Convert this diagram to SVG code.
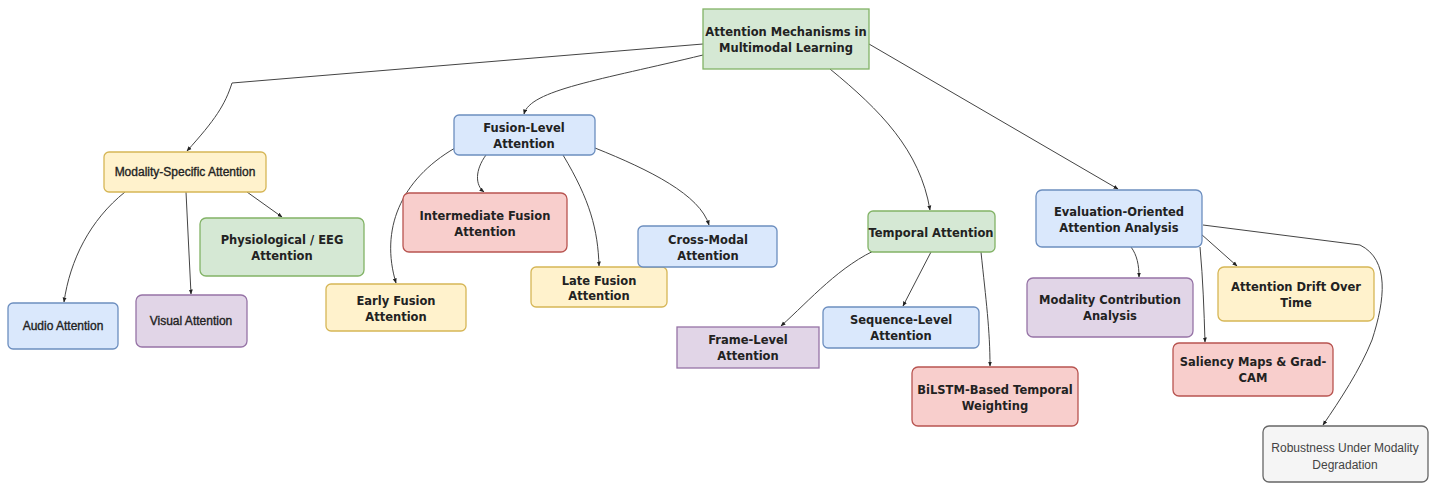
<svg xmlns="http://www.w3.org/2000/svg" width="1434" height="483" viewBox="0 0 1434 483">
<style>
.t{font-family:"DejaVu Sans",Verdana,sans-serif;font-weight:bold;font-size:11.5px;fill:#222;text-anchor:middle}
.n{font-family:"Liberation Sans",Arial,sans-serif;font-size:12px;fill:#222;text-anchor:middle;stroke:#222;stroke-width:0.35}
.g{font-family:"Liberation Sans",Arial,sans-serif;font-size:12px;fill:#444;text-anchor:middle}
.e{fill:none;stroke:#444;stroke-width:1;marker-end:url(#a)}
.gr{fill:#d5e8d4;stroke:#82b366;stroke-width:1.3}
.ye{fill:#fff2cc;stroke:#d6b656;stroke-width:1.3}
.bl{fill:#dae8fc;stroke:#6c8ebf;stroke-width:1.3}
.pu{fill:#e1d5e7;stroke:#9673a6;stroke-width:1.3}
.re{fill:#f8cecc;stroke:#b85450;stroke-width:1.3}
.gy{fill:#f5f5f5;stroke:#666666;stroke-width:1.3}
</style>
<defs>
<marker id="a" viewBox="0 0 10 10" refX="9" refY="5" markerWidth="5" markerHeight="5" orient="auto"><path d="M0,1 L10,5 L0,9 Z" fill="#222"/></marker>
</defs>
<rect width="1434" height="483" fill="#ffffff"/>
<g id="connectors">
<path class="e" d="M703,44 L232,83 C225,105 215,120 187,151"/>
<path class="e" d="M703,55 C600,80 530,90 524,114"/>
<path class="e" d="M830,69 C880,110 920,150 930,210"/>
<path class="e" d="M869,44 L1118,189"/>
<path class="e" d="M125,192 C90,220 70,260 64,302"/>
<path class="e" d="M186,192 L191,294"/>
<path class="e" d="M247,192 L282,217"/>
<path class="e" d="M455,148 C400,180 380,230 396,283"/>
<path class="e" d="M486,155 C475,170 475,185 484,192"/>
<path class="e" d="M563,155 C590,200 598,230 599,266"/>
<path class="e" d="M595,148 C650,170 700,195 709,225"/>
<path class="e" d="M880,248 C840,265 810,300 781,326"/>
<path class="e" d="M931,252 L903,306"/>
<path class="e" d="M981,252 C986,300 990,330 990,366"/>
<path class="e" d="M1131,247 C1137,255 1139,265 1139,277"/>
<path class="e" d="M1201,234 L1237,266"/>
<path class="e" d="M1200,247 C1203,280 1204,310 1205,342"/>
<path class="e" d="M1203,225 L1360,245 C1390,260 1385,300 1372,340 C1360,370 1340,400 1323,425"/>
</g>
<g id="root"><rect class="gr" x="703" y="9" width="166" height="60"/><text class="t" x="786" y="36">Attention Mechanisms in</text><text class="t" x="786" y="52">Multimodal Learning</text></g>
<g id="modality"><rect class="ye" x="104" y="152" width="162" height="40" rx="5"/><text class="n" x="185" y="176">Modality-Specific Attention</text></g>
<g id="physio"><rect class="gr" x="200" y="218" width="164" height="58" rx="6"/><text class="t" x="282" y="244">Physiological / EEG</text><text class="t" x="282" y="260">Attention</text></g>
<g id="audio"><rect class="bl" x="8" y="303" width="110" height="46" rx="5"/><text class="n" x="63" y="330">Audio Attention</text></g>
<g id="visual"><rect class="pu" x="136" y="295" width="111" height="52" rx="6"/><text class="n" x="191" y="325">Visual Attention</text></g>
<g id="fusion"><rect class="bl" x="454" y="115" width="141" height="40" rx="5"/><text class="t" x="524" y="132">Fusion-Level</text><text class="t" x="524" y="148">Attention</text></g>
<g id="intermediate"><rect class="re" x="403" y="193" width="164" height="59" rx="6"/><text class="t" x="485" y="220">Intermediate Fusion</text><text class="t" x="485" y="236">Attention</text></g>
<g id="early"><rect class="ye" x="326" y="284" width="140" height="47" rx="5"/><text class="t" x="396" y="305">Early Fusion</text><text class="t" x="396" y="321">Attention</text></g>
<g id="late"><rect class="ye" x="531" y="267" width="136" height="40" rx="5"/><text class="t" x="599" y="285">Late Fusion</text><text class="t" x="599" y="300">Attention</text></g>
<g id="crossmodal"><rect class="bl" x="638" y="226" width="139" height="41" rx="5"/><text class="t" x="708" y="244">Cross-Modal</text><text class="t" x="708" y="260">Attention</text></g>
<g id="temporal"><rect class="gr" x="868" y="211" width="127" height="41" rx="5"/><text class="t" x="931" y="237">Temporal Attention</text></g>
<g id="frame"><rect class="pu" x="677" y="327" width="142" height="41"/><text class="t" x="748" y="344">Frame-Level</text><text class="t" x="748" y="360">Attention</text></g>
<g id="sequence"><rect class="bl" x="823" y="307" width="156" height="41" rx="5"/><text class="t" x="901" y="324">Sequence-Level</text><text class="t" x="901" y="340">Attention</text></g>
<g id="bilstm"><rect class="re" x="912" y="367" width="166" height="59" rx="6"/><text class="t" x="995" y="394">BiLSTM-Based Temporal</text><text class="t" x="995" y="410">Weighting</text></g>
<g id="evaluation"><rect class="bl" x="1036" y="190" width="166" height="57" rx="6"/><text class="t" x="1119" y="216">Evaluation-Oriented</text><text class="t" x="1119" y="232">Attention Analysis</text></g>
<g id="contribution"><rect class="pu" x="1027" y="278" width="166" height="59" rx="6"/><text class="t" x="1110" y="304">Modality Contribution</text><text class="t" x="1110" y="320">Analysis</text></g>
<g id="drift"><rect class="ye" x="1218" y="267" width="156" height="54" rx="6"/><text class="t" x="1296" y="291">Attention Drift Over</text><text class="t" x="1296" y="307">Time</text></g>
<g id="saliency"><rect class="re" x="1173" y="343" width="160" height="53" rx="6"/><text class="t" x="1253" y="366">Saliency Maps &amp; Grad-</text><text class="t" x="1253" y="382">CAM</text></g>
<g id="robustness"><rect class="gy" x="1263" y="426" width="165" height="56" rx="6"/><text class="g" x="1345" y="452">Robustness Under Modality</text><text class="g" x="1345" y="469">Degradation</text></g>
</svg>
